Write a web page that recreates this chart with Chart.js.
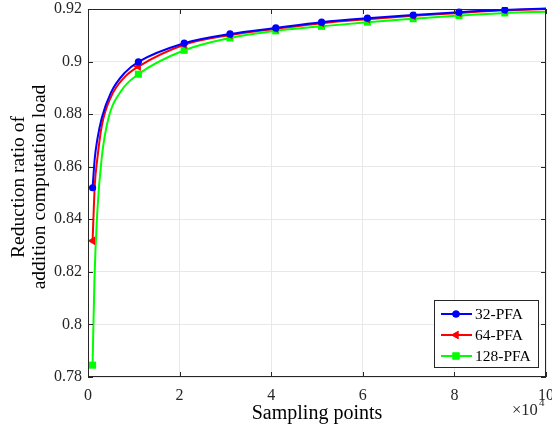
<!DOCTYPE html>
<html>
<head>
<meta charset="utf-8">
<script src="https://cdn.jsdelivr.net/npm/chart.js@4.4.1/dist/chart.umd.min.js"></script>
<style>
	body { margin: 0; background: #fff; }
	#wrap { width: 552px; height: 430px; }
</style>
</head>
<body>
<div id="wrap"><canvas id="plot" width="552" height="430"></canvas></div>
<script>
// values (x in units of 10^4 sampling points)
const markerX = [0.1, 1.1, 2.1, 3.1, 4.1, 5.1, 6.1, 7.1, 8.1, 9.1];
const xTicks = [0, 2, 4, 6, 8, 10];
const yTicks = [0.78, 0.8, 0.82, 0.84, 0.86, 0.88, 0.9, 0.92];

const pfa32X = [0.1, 0.15, 0.2, 0.3, 0.5, 0.8, 1.1, 2.1, 3.1, 4.1, 5.1, 6.1, 7.1, 8.1, 9.1, 10];
const pfa32Y = [0.852, 0.8636, 0.870, 0.8785, 0.8882, 0.8957, 0.8999, 0.907, 0.9105, 0.9128, 0.915, 0.9165, 0.9177, 0.9188, 0.9197, 0.9202];

const pfa64X = [0.1, 0.15, 0.2, 0.3, 0.5, 0.8, 1.1, 2.1, 3.1, 4.1, 5.1, 6.1, 7.1, 8.1, 9.1, 10];
const pfa64Y = [0.8318, 0.8535, 0.8625, 0.8755, 0.8865, 0.8941, 0.8981, 0.9064, 0.9101, 0.9125, 0.9146, 0.9161, 0.9174, 0.9185, 0.9195, 0.92];

const pfa128X = [0.1, 0.14, 0.2, 0.3, 0.44, 0.73, 1.1, 2.1, 3.1, 4.1, 5.1, 6.1, 7.1, 8.1, 9.1, 10];
const pfa128Y = [0.7845, 0.8165, 0.842, 0.8635, 0.878, 0.889, 0.8952, 0.9043, 0.909, 0.9117, 0.9134, 0.915, 0.9163, 0.9175, 0.9185, 0.919];

const series = [
	{label: '32-PFA', xs: pfa32X, ys: pfa32Y, color: '#0000ff', style: 'circle', r: 3.6, rot: 0},
	{label: '64-PFA', xs: pfa64X, ys: pfa64Y, color: '#ff0000', style: 'triangle', r: 5, rot: -90},
	{label: '128-PFA', xs: pfa128X, ys: pfa128Y, color: '#00ff00', style: 'rect', r: 5, rot: 0}
];

const FONT = '"Liberation Serif", "Times New Roman", serif';
const INK = '#262626';

const isMarker = (x) => markerX.some(m => Math.abs(m - x) < 1e-9);

//draws the matlab style box, inner ticks, titles and legend
const decor = {
	id: 'decor',
	afterDraw(chart) {
		let ctx = chart.ctx;
		let {left, right, top, bottom} = chart.chartArea;
		let sx = chart.scales.x, sy = chart.scales.y;
		ctx.save();
		ctx.strokeStyle = INK;
		ctx.lineWidth = 1;
		ctx.strokeRect(left + 0.5, top + 0.5, right - left - 1, bottom - top - 1);
		ctx.beginPath();
		xTicks.forEach(v => {
			let px = Math.round(sx.getPixelForValue(v)) + 0.5;
			ctx.moveTo(px, bottom); ctx.lineTo(px, bottom - 5);
			ctx.moveTo(px, top); ctx.lineTo(px, top + 5);
		});
		yTicks.forEach(v => {
			let py = Math.round(sy.getPixelForValue(v)) + 0.5;
			ctx.moveTo(left, py); ctx.lineTo(left + 5, py);
			ctx.moveTo(right, py); ctx.lineTo(right - 5, py);
		});
		ctx.stroke();

		//axis titles
		ctx.fillStyle = '#000';
		ctx.textAlign = 'center';
		ctx.textBaseline = 'middle';
		ctx.font = '20px ' + FONT;
		ctx.fillText('Sampling points', (left + right) / 2, 414);
		ctx.save();
		ctx.translate(19, 187);
		ctx.rotate(-Math.PI / 2);
		ctx.font = '19.5px ' + FONT;
		ctx.fillText('Reduction ratio of', 0, 0);
		ctx.fillText('addition computation load', 0, 21);
		ctx.restore();

		//exponent label
		ctx.fillStyle = INK;
		ctx.textAlign = 'left';
		ctx.font = '16.5px ' + FONT;
		ctx.fillText('\u00d710', 512, 411);
		ctx.font = '11px ' + FONT;
		ctx.fillText('4', 539, 403);

		//legend
		let lx = 434, ly = 300, lw = 104, lh = 67;
		ctx.fillStyle = '#fff';
		ctx.fillRect(lx, ly, lw, lh);
		ctx.strokeStyle = INK;
		ctx.strokeRect(lx + 0.5, ly + 0.5, lw, lh);
		series.forEach((s, i) => {
			let y = 314 + i * 21;
			ctx.strokeStyle = s.color;
			ctx.lineWidth = 2;
			ctx.beginPath();
			ctx.moveTo(441, y); ctx.lineTo(472, y);
			ctx.stroke();
			ctx.fillStyle = s.color;
			Chart.helpers.drawPoint(ctx, {pointStyle: s.style, radius: s.r, rotation: s.rot, borderWidth: 0}, 456, y);
			ctx.fill();
			ctx.fillStyle = '#000';
			ctx.font = '15.5px ' + FONT;
			ctx.fillText(s.label, 475, y + 1);
		});
		ctx.restore();
	}
};

const datasets = series.map(s => ({
	label: s.label,
	data: s.xs.map((x, i) => ({x: x, y: s.ys[i]})),
	borderColor: s.color,
	backgroundColor: s.color,
	borderWidth: 2,
	cubicInterpolationMode: 'monotone',
	pointStyle: s.style,
	pointRotation: s.rot,
	pointBorderWidth: 0,
	pointRadius: ctx => isMarker(ctx.raw.x) ? s.r : 0,
	pointHoverRadius: ctx => isMarker(ctx.raw.x) ? s.r : 0,
	clip: 2
}));

new Chart(document.querySelector('#plot').getContext('2d'), {
	type: 'line',
	data: {datasets: datasets},
	options: {
		responsive: false,
		animation: false,
		layout: {padding: {top: 9, right: 6, left: 0, bottom: 0}},
		plugins: {legend: {display: false}, tooltip: {enabled: false}},
		scales: {
			x: {
				type: 'linear',
				min: 0, max: 10,
				afterBuildTicks: s => { s.ticks = xTicks.map(v => ({value: v})); },
				afterFit: s => { s.height = 53; s.paddingLeft = 0; s.paddingRight = 0; },
				grid: {color: '#e8e8e8', drawTicks: false},
				border: {display: false},
				ticks: {color: INK, padding: 9, maxRotation: 0, font: {family: FONT, size: 16}}
			},
			y: {
				min: 0.78, max: 0.92,
				afterBuildTicks: s => { s.ticks = yTicks.map(v => ({value: v})); },
				afterFit: s => { s.width = 88; s.paddingTop = 0; s.paddingBottom = 0; },
				grid: {color: '#e8e8e8', drawTicks: false},
				border: {display: false},
				ticks: {
					color: INK, padding: 6, font: {family: FONT, size: 16},
					callback: v => String(Number(v.toFixed(2)))
				}
			}
		}
	},
	plugins: [decor]
});
</script>
</body>
</html>
